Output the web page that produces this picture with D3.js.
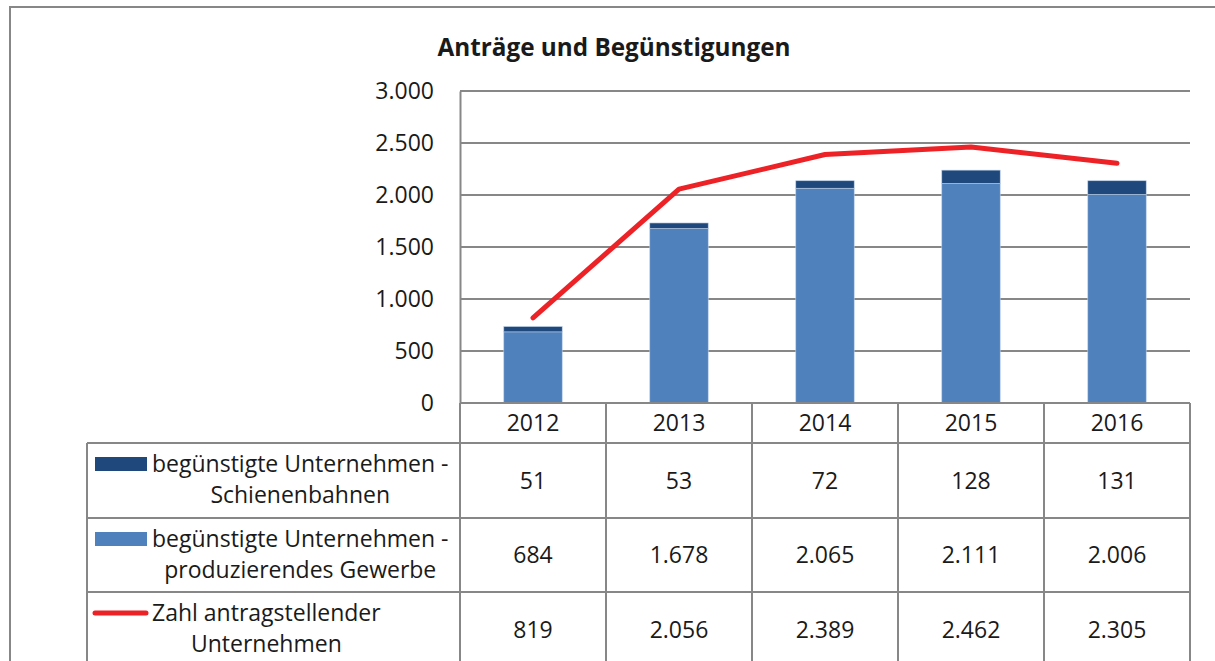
<!DOCTYPE html>
<html lang="de">
<head>
<meta charset="UTF-8">
<title>Anträge und Begünstigungen</title>
<script src="https://d3js.org/d3.v7.min.js"></script>
<style>
  body, html { margin: 0; background: #fff; }
  svg { display: block; }
  text { font-family: "Open Sans", "DejaVu Sans", sans-serif; fill: #1a1a1a; }
</style>
</head>
<body>
<script>
// data
const years = ["2012", "2013", "2014", "2015", "2016"];
const schienenbahnen = [51, 53, 72, 128, 131];
const produzierend = [684, 1678, 2065, 2111, 2006];
const antragsteller = [819, 2056, 2389, 2462, 2305];
const yTicks = [0, 500, 1000, 1500, 2000, 2500, 3000];

const seriesRows = [
  { lines: ["begünstigte Unternehmen -", "Schienenbahnen"], values: schienenbahnen, key: "dark" },
  { lines: ["begünstigte Unternehmen -", "produzierendes Gewerbe"], values: produzierend, key: "light" },
  { lines: ["Zahl antragstellender", "Unternehmen"], values: antragsteller, key: "line" }
];

const width = 1215, height = 661;
const colDark = "#1f497d", colLight = "#4f81bd", colRed = "#ec2227", grid = "#878787";
const fs = 23;
const fmt = d3.formatLocale({ decimal: ",", thousands: ".", grouping: [3], currency: ["", "€"] }).format(",d");

const svg = d3.select("body").append("svg")
  .attr("width", width).attr("height", height);

// outer frame
svg.append("rect")
  .attr("x", 10).attr("y", 7).attr("width", width + 20).attr("height", height + 20)
  .attr("fill", "none").attr("stroke", grid).attr("stroke-width", 2);

const plotLeft = 460, plotRight = 1190, plotTop = 91, plotBottom = 403;

const x = d3.scaleBand().domain(years).range([plotLeft, plotRight])
  .paddingInner(0.6).paddingOuter(0.3);
const y = d3.scaleLinear().domain([0, 3000]).range([plotBottom, plotTop]);

// title
svg.append("text")
  .attr("x", 614).attr("y", 56)
  .attr("text-anchor", "middle")
  .attr("font-weight", "bold")
  .attr("font-size", 24.3)
  .text("Anträge und Begünstigungen");

// gridlines
svg.append("g").selectAll("line")
  .data(yTicks.filter(d => d > 0))
  .join("line")
  .attr("x1", plotLeft).attr("x2", plotRight)
  .attr("y1", d => y(d)).attr("y2", d => y(d))
  .attr("stroke", grid).attr("stroke-width", 2);

// y axis
const yAxis = svg.append("g")
  .attr("transform", `translate(${plotLeft},0)`)
  .call(d3.axisLeft(y).tickValues(yTicks).tickFormat(fmt).tickSize(0).tickPadding(26));
yAxis.select(".domain").attr("stroke", grid).attr("stroke-width", 2);
yAxis.selectAll("text").attr("font-size", fs).attr("fill", "#1a1a1a")
  .style("font-family", "\"Open Sans\", sans-serif");

// stacked bars
const stack = years.map((yr, i) => ({ yr, a: produzierend[i], b: schienenbahnen[i] }));
const bars = svg.append("g");
bars.selectAll("rect.light")
  .data(stack).join("rect").attr("class", "light")
  .attr("x", d => x(d.yr)).attr("width", x.bandwidth())
  .attr("y", d => y(d.a)).attr("height", d => y(0) - y(d.a))
  .attr("fill", colLight).attr("stroke", "#b9cde5").attr("stroke-width", 0.6);
bars.selectAll("rect.dark")
  .data(stack).join("rect").attr("class", "dark")
  .attr("x", d => x(d.yr)).attr("width", x.bandwidth())
  .attr("y", d => y(d.a + d.b)).attr("height", d => y(d.a) - y(d.a + d.b))
  .attr("fill", colDark).attr("stroke", "#b9cde5").attr("stroke-width", 0.6);

// line
const line = d3.line()
  .x((d, i) => x(years[i]) + x.bandwidth() / 2)
  .y(d => y(d));
svg.append("path")
  .datum(antragsteller)
  .attr("d", line)
  .attr("fill", "none").attr("stroke", colRed).attr("stroke-width", 5)
  .attr("stroke-linecap", "round").attr("stroke-linejoin", "round");

// data table
const tableLeft = 87;
const rowEdges = [403, 443, 518, 592, 667];
const colEdges = [plotLeft].concat(years.map(yr => x(yr) - x.step() * x.paddingInner() / 2 + x.step()));
colEdges[colEdges.length - 1] = plotRight;

const tbl = svg.append("g").attr("stroke", grid).attr("stroke-width", 2);
tbl.append("line").attr("x1", plotLeft).attr("x2", plotRight).attr("y1", rowEdges[0]).attr("y2", rowEdges[0]);
rowEdges.slice(1, 4).forEach(r => {
  tbl.append("line").attr("x1", tableLeft).attr("x2", plotRight).attr("y1", r).attr("y2", r);
});
colEdges.forEach(c => {
  tbl.append("line").attr("x1", c).attr("x2", c).attr("y1", rowEdges[0]).attr("y2", height);
});
tbl.append("line").attr("x1", tableLeft).attr("x2", tableLeft).attr("y1", rowEdges[1]).attr("y2", height);

// year labels
svg.append("g").selectAll("text")
  .data(years).join("text")
  .attr("x", d => x(d) + x.bandwidth() / 2)
  .attr("y", (rowEdges[0] + rowEdges[1]) / 2)
  .attr("dy", "0.35em")
  .attr("text-anchor", "middle").attr("font-size", fs)
  .text(d => d);

// value rows
seriesRows.forEach((row, ri) => {
  const top = rowEdges[ri + 1], bottom = rowEdges[ri + 2];
  const mid = (top + bottom) / 2;
  svg.append("g").selectAll("text")
    .data(row.values).join("text")
    .attr("x", (d, i) => x(years[i]) + x.bandwidth() / 2)
    .attr("y", mid).attr("dy", "0.35em")
    .attr("text-anchor", "middle").attr("font-size", fs)
    .text(d => fmt(d));

  // legend key
  const l1 = top + 21, l2 = top + 52;
  if (row.key === "line") {
    svg.append("line").attr("x1", 95).attr("x2", 146).attr("y1", l1).attr("y2", l1)
      .attr("stroke", colRed).attr("stroke-width", 5).attr("stroke-linecap", "round");
  } else {
    svg.append("rect").attr("x", 95).attr("y", l1 - 7).attr("width", 52).attr("height", 14)
      .attr("fill", row.key === "dark" ? colDark : colLight);
  }

  // label block, lines centred on the widest one
  const g = svg.append("g");
  const texts = g.selectAll("text").data(row.lines).join("text")
    .attr("y", (d, i) => i === 0 ? l1 : l2).attr("dy", "0.35em")
    .attr("font-size", fs).attr("text-anchor", "middle")
    .text(d => d);
  let maxW = 0;
  texts.each(function () { maxW = Math.max(maxW, this.getComputedTextLength()); });
  texts.attr("x", 152 + maxW / 2);
});
</script>
</body>
</html>
